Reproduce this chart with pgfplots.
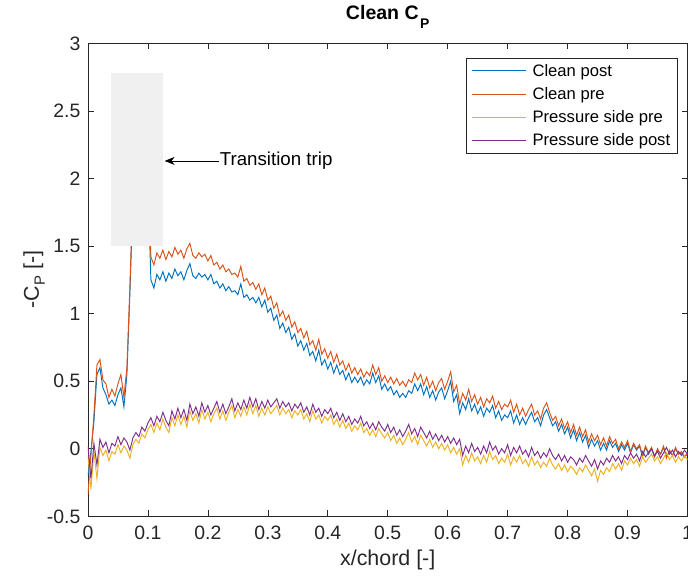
\documentclass[border=0pt]{standalone}
\usepackage{fontspec}
\setmainfont{Liberation Sans}
\usepackage{pgfplots}
\usepackage{pgfplotstable}
\pgfplotsset{compat=1.18}
\usetikzlibrary{arrows.meta}

\definecolor{mblue}{rgb}{0,0.447,0.741}
\definecolor{morange}{rgb}{0.850,0.325,0.098}
\definecolor{myellow}{rgb}{0.929,0.694,0.125}
\definecolor{mpurple}{rgb}{0.494,0.184,0.556}
\definecolor{axgray}{rgb}{0.15,0.15,0.15}

% lowered subscript in the style of the axis labels
\newcommand{\lsub}[3]{\kern#3\raisebox{#2}{\fontsize{#1}{#1}\selectfont P}}

% -C_P along the chord: clean post/pre and pressure-side-tripped pre/post
\pgfplotstableread{
x     post   pre    pspre  pspost
0.000 -0.20 -0.34 -0.05 0.02
0.005 -0.02 -0.05 -0.30 -0.22
0.010 0.20 0.25 -0.02 0.04
0.015 0.55 0.62 -0.22 -0.12
0.020 0.60 0.66 0.01 0.07
0.025 0.45 0.51 -0.05 0.01
0.030 0.40 0.48 -0.01 0.05
0.035 0.33 0.38 -0.09 -0.03
0.040 0.36 0.44 -0.02 0.04
0.045 0.32 0.39 -0.04 0.02
0.050 0.40 0.48 0.03 0.09
0.055 0.45 0.55 -0.03 0.03
0.060 0.31 0.38 0.02 0.08
0.065 0.55 0.60 -0.01 0.05
0.070 1.15 1.20 -0.07 -0.01
0.075 1.85 1.90 0.03 0.08
0.080 2.10 2.20 0.07 0.12
0.085 2.15 2.25 0.04 0.09
0.090 2.12 2.20 0.11 0.16
0.095 2.05 2.15 0.08 0.13
0.100 1.98 2.05 0.14 0.19
0.105 1.25 1.42 0.18 0.23
0.110 1.19 1.36 0.12 0.17
0.115 1.29 1.45 0.19 0.24
0.120 1.25 1.41 0.14 0.20
0.125 1.31 1.47 0.22 0.27
0.130 1.24 1.40 0.16 0.21
0.135 1.30 1.46 0.12 0.17
0.140 1.26 1.42 0.23 0.28
0.145 1.33 1.49 0.17 0.22
0.150 1.28 1.44 0.25 0.30
0.155 1.31 1.47 0.18 0.23
0.160 1.25 1.41 0.24 0.29
0.165 1.32 1.48 0.16 0.21
0.170 1.37 1.52 0.28 0.33
0.175 1.28 1.43 0.21 0.26
0.180 1.26 1.41 0.26 0.31
0.185 1.30 1.45 0.19 0.24
0.190 1.27 1.42 0.29 0.34
0.195 1.29 1.44 0.22 0.27
0.200 1.25 1.39 0.27 0.32
0.205 1.29 1.43 0.20 0.25
0.210 1.22 1.36 0.26 0.30
0.215 1.24 1.38 0.30 0.35
0.220 1.19 1.33 0.22 0.27
0.225 1.22 1.36 0.28 0.33
0.230 1.17 1.31 0.21 0.26
0.235 1.20 1.33 0.27 0.31
0.240 1.16 1.29 0.32 0.37
0.245 1.17 1.30 0.23 0.28
0.250 1.14 1.27 0.29 0.34
0.255 1.22 1.35 0.24 0.29
0.260 1.12 1.24 0.31 0.36
0.265 1.14 1.26 0.25 0.30
0.270 1.10 1.21 0.33 0.38
0.275 1.12 1.23 0.26 0.31
0.280 1.08 1.18 0.32 0.37
0.285 1.12 1.22 0.24 0.29
0.290 1.05 1.14 0.30 0.35
0.295 1.10 1.19 0.25 0.30
0.300 1.01 1.10 0.31 0.36
0.305 1.04 1.13 0.26 0.31
0.310 0.95 1.04 0.29 0.34
0.315 0.99 1.08 0.32 0.37
0.320 0.89 0.98 0.25 0.30
0.325 0.93 1.02 0.30 0.35
0.330 0.86 0.95 0.26 0.31
0.335 0.90 0.99 0.29 0.34
0.340 0.81 0.90 0.23 0.28
0.345 0.85 0.94 0.28 0.33
0.350 0.76 0.86 0.25 0.30
0.355 0.80 0.89 0.29 0.34
0.360 0.73 0.82 0.22 0.27
0.365 0.78 0.87 0.26 0.31
0.370 0.69 0.77 0.20 0.25
0.375 0.72 0.80 0.28 0.33
0.380 0.65 0.73 0.22 0.27
0.385 0.73 0.81 0.25 0.30
0.390 0.62 0.70 0.19 0.24
0.395 0.66 0.74 0.24 0.29
0.400 0.59 0.67 0.21 0.26
0.405 0.64 0.72 0.25 0.30
0.410 0.56 0.64 0.18 0.23
0.415 0.62 0.70 0.22 0.27
0.420 0.55 0.62 0.16 0.21
0.425 0.58 0.65 0.21 0.26
0.430 0.51 0.58 0.15 0.20
0.435 0.56 0.63 0.19 0.24
0.440 0.49 0.56 0.13 0.18
0.445 0.53 0.60 0.17 0.22
0.450 0.49 0.55 0.14 0.19
0.455 0.53 0.59 0.19 0.24
0.460 0.47 0.53 0.12 0.17
0.465 0.51 0.57 0.15 0.20
0.470 0.48 0.54 0.10 0.15
0.475 0.56 0.62 0.14 0.19
0.480 0.49 0.55 0.09 0.14
0.485 0.54 0.60 0.15 0.20
0.490 0.44 0.50 0.11 0.16
0.495 0.48 0.54 0.08 0.13
0.500 0.43 0.49 0.12 0.18
0.505 0.46 0.53 0.06 0.12
0.510 0.40 0.48 0.10 0.16
0.515 0.43 0.52 0.04 0.10
0.520 0.38 0.47 0.08 0.14
0.525 0.41 0.50 0.03 0.09
0.530 0.38 0.46 0.07 0.13
0.535 0.43 0.51 0.12 0.18
0.540 0.41 0.49 0.05 0.11
0.545 0.48 0.56 0.09 0.15
0.550 0.43 0.51 0.03 0.09
0.555 0.48 0.55 0.10 0.16
0.560 0.40 0.47 0.06 0.12
0.565 0.46 0.53 0.02 0.08
0.570 0.38 0.45 0.07 0.13
0.575 0.43 0.50 0.01 0.07
0.580 0.36 0.43 0.05 0.11
0.585 0.42 0.49 0.00 0.06
0.590 0.45 0.52 0.04 0.10
0.595 0.37 0.44 -0.01 0.05
0.600 0.43 0.50 0.03 0.09
0.605 0.50 0.57 -0.03 0.04
0.610 0.35 0.42 0.01 0.08
0.615 0.40 0.47 -0.04 0.03
0.620 0.26 0.33 0.00 0.07
0.625 0.34 0.41 -0.12 -0.05
0.630 0.29 0.36 -0.05 0.02
0.635 0.37 0.44 -0.10 -0.03
0.640 0.28 0.35 -0.03 0.04
0.645 0.33 0.40 -0.09 -0.02
0.650 0.26 0.33 -0.06 0.01
0.655 0.31 0.38 -0.11 -0.04
0.660 0.24 0.31 -0.05 0.02
0.665 0.30 0.37 -0.10 -0.03
0.670 0.27 0.34 -0.02 0.05
0.675 0.32 0.39 -0.08 -0.01
0.680 0.23 0.30 -0.05 0.02
0.685 0.28 0.35 -0.11 -0.04
0.690 0.21 0.29 -0.07 0.00
0.695 0.25 0.33 -0.10 -0.03
0.700 0.23 0.31 -0.04 0.03
0.705 0.28 0.36 -0.12 -0.05
0.710 0.19 0.27 -0.06 0.01
0.715 0.25 0.33 -0.10 -0.03
0.720 0.18 0.25 -0.05 0.02
0.725 0.23 0.30 -0.11 -0.04
0.730 0.18 0.24 -0.08 -0.01
0.735 0.23 0.29 -0.13 -0.06
0.740 0.27 0.33 -0.06 0.01
0.745 0.20 0.25 -0.12 -0.05
0.750 0.23 0.28 -0.09 -0.02
0.755 0.17 0.22 -0.14 -0.07
0.760 0.25 0.30 -0.10 -0.03
0.765 0.29 0.34 -0.13 -0.06
0.770 0.23 0.27 -0.07 0.00
0.775 0.17 0.21 -0.12 -0.05
0.780 0.20 0.24 -0.15 -0.08
0.785 0.13 0.17 -0.11 -0.04
0.790 0.18 0.22 -0.16 -0.09
0.795 0.11 0.15 -0.12 -0.05
0.800 0.16 0.20 -0.17 -0.10
0.805 0.08 0.12 -0.13 -0.06
0.810 0.14 0.18 -0.15 -0.08
0.815 0.06 0.10 -0.19 -0.12
0.820 0.12 0.16 -0.14 -0.07
0.825 0.05 0.09 -0.17 -0.10
0.830 0.10 0.14 -0.12 -0.05
0.835 0.01 0.05 -0.16 -0.09
0.840 0.07 0.11 -0.20 -0.13
0.845 0.02 0.06 -0.15 -0.08
0.850 0.06 0.10 -0.24 -0.15
0.855 -0.01 0.03 -0.16 -0.09
0.860 0.04 0.08 -0.19 -0.12
0.865 -0.01 0.02 -0.14 -0.07
0.870 0.06 0.09 -0.17 -0.10
0.875 0.01 0.04 -0.11 -0.05
0.880 0.04 0.07 -0.15 -0.09
0.885 -0.02 0.00 -0.11 -0.06
0.890 0.03 0.05 -0.16 -0.11
0.895 -0.01 0.01 -0.09 -0.05
0.900 0.04 0.06 -0.12 -0.08
0.905 -0.03 -0.02 -0.07 -0.03
0.910 0.03 0.04 -0.11 -0.07
0.915 -0.01 0.00 -0.08 -0.04
0.920 0.02 0.03 -0.13 -0.09
0.925 -0.06 -0.05 -0.06 -0.02
0.930 0.01 0.02 -0.10 -0.06
0.935 -0.04 -0.03 -0.07 -0.03
0.940 0.00 0.01 -0.04 0.00
0.945 -0.06 -0.06 -0.09 -0.05
0.950 -0.01 0.00 -0.06 -0.02
0.955 -0.04 -0.04 -0.11 -0.07
0.960 0.01 0.02 -0.07 -0.03
0.965 -0.06 -0.07 -0.03 0.01
0.970 -0.02 -0.01 -0.08 -0.04
0.975 -0.05 -0.05 -0.05 -0.01
0.980 0.00 0.01 -0.10 -0.06
0.985 -0.04 -0.04 -0.06 -0.02
0.990 -0.03 -0.02 -0.09 -0.05
0.995 -0.06 -0.06 -0.05 -0.01
1.000 -0.04 -0.03 -0.08 -0.04
}\cpdata

\begin{document}
\begin{tikzpicture}
\begin{axis}[
  scale only axis,
  width=600bp, height=473.3bp,
  xmin=0, xmax=1, ymin=-0.5, ymax=3,
  xtick={0,0.1,0.2,0.3,0.4,0.5,0.6,0.7,0.8,0.9,1},
  xticklabels={0,0.1,0.2,0.3,0.4,0.5,0.6,0.7,0.8,0.9,1},
  ytick={-0.5,0,0.5,1,1.5,2,2.5,3},
  yticklabels={-0.5,0,0.5,1,1.5,2,2.5,3},
  tick align=inside,
  major tick length=6bp,
  axis line style={axgray, line width=0.6bp},
  every tick/.style={axgray, line width=0.6bp},
  tick label style={font=\fontsize{19.5}{22}\selectfont, text=axgray},
  xticklabel style={yshift=-6bp},
  yticklabel style={xshift=-4bp},
  label style={font=\fontsize{21.5}{24}\selectfont, text=axgray},
  xlabel={x/chord [-]},
  ylabel={-C\lsub{15}{-6bp}{0.5bp} [-]},
  xlabel style={at={(axis description cs:0.5,-0.104)}, anchor=base},
  ylabel style={at={(axis description cs:-0.082,0.5)}, anchor=base},
  title={Clean C\lsub{14}{-9bp}{1.5bp}},
  title style={at={(axis description cs:0.5,1.0368)}, anchor=base,
    font=\bfseries\fontsize{19.6}{22}\selectfont},
  legend style={at={(axis description cs:0.9833,0.9692)}, anchor=north east,
    draw=axgray, line width=0.6bp, fill=white,
    font=\fontsize{16.7}{19}\selectfont, text=black,
    inner xsep=5bp, inner ysep=4bp, row sep=5.6bp, column sep=4bp,
    cells={anchor=west}},
  legend image code/.code={\draw[#1, line width=1bp] (0bp,0bp) -- (54bp,0bp);},
  every axis plot/.append style={line width=0.95bp},
]
\addplot[color=mblue] table[x=x, y=post] {\cpdata};
\addlegendentry{Clean post}
\addplot[color=morange] table[x=x, y=pre] {\cpdata};
\addlegendentry{Clean pre}
\addplot[color=myellow] table[x=x, y=pspre] {\cpdata};
\addlegendentry{Pressure side pre}
\addplot[color=mpurple] table[x=x, y=pspost] {\cpdata};
\addlegendentry{Pressure side post}

% shaded band marking the trip location
\fill[black!6] (axis cs:0.039,1.5) rectangle (axis cs:0.125,2.78);
\draw[-{Stealth[length=10bp,width=8bp]}, line width=0.7bp, black]
  (axis cs:0.218,2.13) -- (axis cs:0.128,2.13);
\node[anchor=west, inner sep=1bp, font=\fontsize{18.8}{21}\selectfont]
  at (axis cs:0.218,2.13) {Transition trip};
\end{axis}
\pgfresetboundingbox
\useasboundingbox ([xshift=-88bp,yshift=-59.3bp]current axis.south west)
  rectangle ([xshift=0.5bp,yshift=43.4bp]current axis.north east);
\end{tikzpicture}
\end{document}
